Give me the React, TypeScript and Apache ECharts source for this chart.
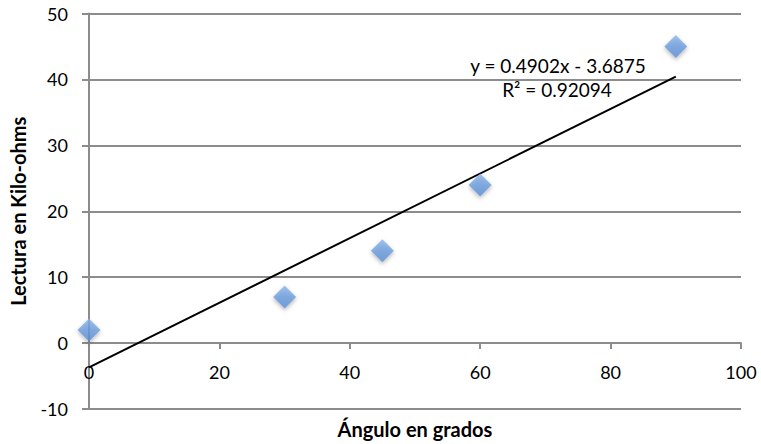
import React, { useEffect, useRef } from "react";
import * as echarts from "echarts";

const angles = [0, 30, 45, 60, 90];
const readings = [2, 7, 14, 24, 45];
const slope = 0.4902;
const intercept = -3.6875;
const trendX = [0, 90];
const equationText = "y = 0.4902x - 3.6875";
const r2Text = "R² = 0.92094";
const xTitle = "Ángulo en grados";
const yTitle = "Lectura en Kilo-ohms";

const FONT = "Lato";

export default function App() {
  const ref = useRef<HTMLDivElement>(null);
  useEffect(() => {
    if (!ref.current) return;
    const chart = echarts.init(ref.current, null, { renderer: "svg" });
    const axisColor = "#8c8c8c";
    const gridTop = 13.5;
    const gridBottom = 35;
    const yMin = -10;
    const yMax = 50;
    const plotH = 444 - gridTop - gridBottom;
    const zeroOffset = -(plotH * (0 - yMin)) / (yMax - yMin);
    chart.setOption({
      animation: false,
      grid: { left: 89, right: 20, top: gridTop, bottom: gridBottom, containLabel: false, outerBoundsMode: "none" },
      xAxis: {
        type: "value",
        min: 0,
        max: 100,
        interval: 20,
        offset: zeroOffset,
        name: xTitle,
        nameLocation: "middle",
        nameGap: 76,
        nameTextStyle: { fontFamily: FONT, fontSize: 20, fontWeight: "bold", color: "#000" },
        axisLine: { onZero: false, lineStyle: { color: axisColor, width: 2 } },
        axisTick: { show: true, length: 6, lineStyle: { color: axisColor, width: 2 } },
        axisLabel: { fontFamily: FONT, fontSize: 18, color: "#000", margin: 20 },
        splitLine: { show: false },
      },
      yAxis: {
        type: "value",
        min: yMin,
        max: yMax,
        interval: 10,
        name: yTitle,
        nameLocation: "middle",
        nameGap: 61,
        nameTextStyle: { fontFamily: FONT, fontSize: 20, fontWeight: "bold", color: "#000" },
        axisLine: { show: true, onZero: false, lineStyle: { color: axisColor, width: 2 } },
        axisTick: { show: true, length: 7, lineStyle: { color: axisColor, width: 2 } },
        axisLabel: { fontFamily: FONT, fontSize: 18, color: "#000", margin: 21 },
        splitLine: { show: true, lineStyle: { color: axisColor, width: 2 } },
      },
      series: [
        {
          type: "line",
          data: trendX.map((x) => [x, slope * x + intercept]),
          symbol: "none",
          lineStyle: { color: "#000", width: 2 },
          z: 2,
        },
        {
          type: "scatter",
          data: angles.map((a, i) => [a, readings[i]]),
          symbol: "diamond",
          symbolSize: 23,
          itemStyle: {
            color: new echarts.graphic.LinearGradient(0, 0, 0, 1, [
              { offset: 0, color: "#8db5ea" },
              { offset: 0.5, color: "#6b9ddd" },
              { offset: 1, color: "#5a8fd6" },
            ]),
            shadowColor: "rgba(0,0,0,0.35)",
            shadowBlur: 4,
            shadowOffsetY: 2,
          },
          z: 3,
        },
      ],
      graphic: [
        {
          type: "text",
          x: 558,
          y: 65,
          style: {
            text: equationText,
            fontFamily: FONT,
            fontSize: 19,
            fill: "#000",
            align: "center",
            verticalAlign: "middle",
          },
        },
        {
          type: "text",
          x: 557,
          y: 89,
          style: {
            text: r2Text,
            fontFamily: FONT,
            fontSize: 19,
            fill: "#000",
            align: "center",
            verticalAlign: "middle",
          },
        },
      ],
    });
    return () => chart.dispose();
  }, []);
  return <div ref={ref} style={{ position: "absolute", left: 0, top: 0, width: 761, height: 444 }} />;
}
